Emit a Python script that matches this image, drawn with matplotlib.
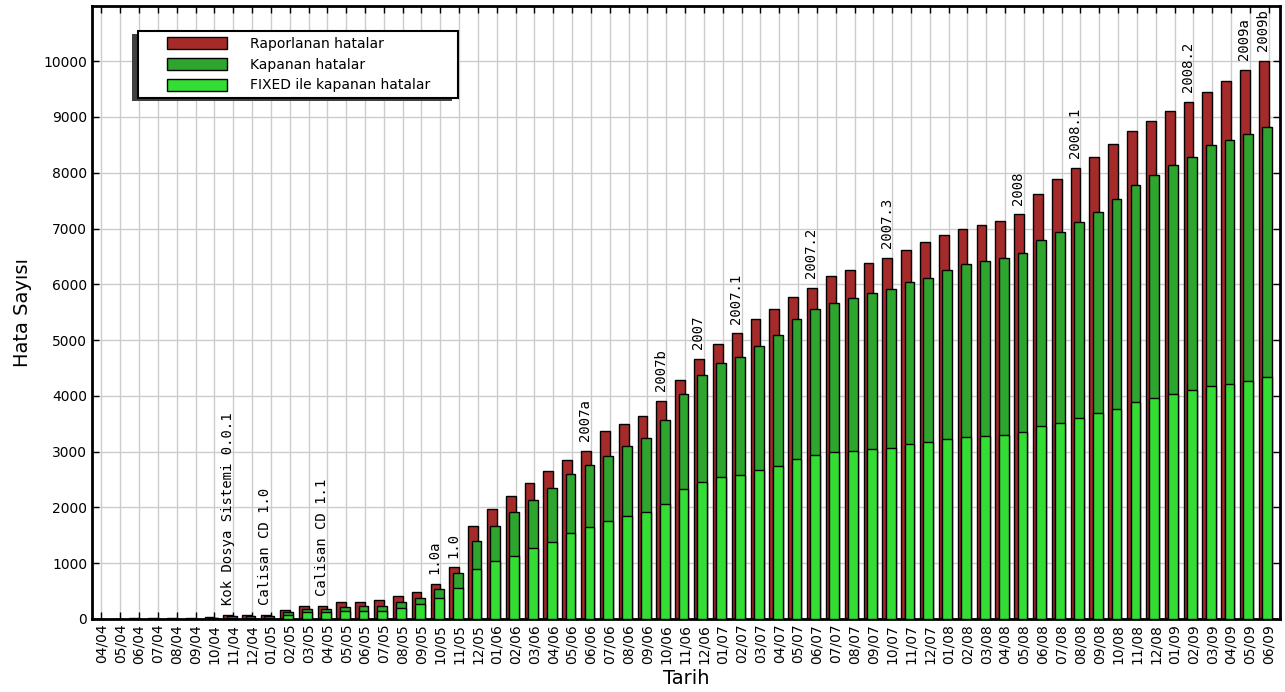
import matplotlib
matplotlib.use("Agg")
import matplotlib.pyplot as plt
from matplotlib.patches import Rectangle
from matplotlib.legend_handler import HandlerPatch
import numpy as np

months = ["04/04", "05/04", "06/04", "07/04", "08/04", "09/04", "10/04", "11/04", "12/04",
          "01/05", "02/05", "03/05", "04/05", "05/05", "06/05", "07/05", "08/05", "09/05", "10/05", "11/05", "12/05",
          "01/06", "02/06", "03/06", "04/06", "05/06", "06/06", "07/06", "08/06", "09/06", "10/06", "11/06", "12/06",
          "01/07", "02/07", "03/07", "04/07", "05/07", "06/07", "07/07", "08/07", "09/07", "10/07", "11/07", "12/07",
          "01/08", "02/08", "03/08", "04/08", "05/08", "06/08", "07/08", "08/08", "09/08", "10/08", "11/08", "12/08",
          "01/09", "02/09", "03/09", "04/09", "05/09", "06/09"]

reported = [5, 8, 10, 10, 12, 15, 40, 80, 80,
            80, 170, 240, 240, 310, 310, 335, 420, 490, 630, 925, 1660,
            1980, 2210, 2440, 2645, 2855, 3010, 3375, 3495, 3635, 3905, 4290, 4660,
            4930, 5120, 5370, 5550, 5775, 5940, 6150, 6260, 6375, 6470, 6610, 6755,
            6890, 6985, 7070, 7140, 7255, 7615, 7895, 8085, 8290, 8520, 8750, 8925,
            9105, 9270, 9440, 9645, 9850, 10000]

closed = [2, 3, 4, 4, 5, 6, 20, 50, 50,
          50, 120, 185, 185, 210, 235, 235, 310, 370, 535, 820, 1405,
          1660, 1910, 2140, 2345, 2600, 2755, 2915, 3095, 3240, 3575, 4040, 4380,
          4590, 4705, 4890, 5095, 5370, 5550, 5670, 5757, 5850, 5925, 6035, 6105,
          6265, 6360, 6420, 6470, 6565, 6795, 6930, 7110, 7295, 7530, 7775, 7960,
          8140, 8285, 8490, 8585, 8695, 8815]

fixed = [1, 1, 2, 2, 2, 3, 10, 25, 25,
         25, 75, 120, 120, 150, 150, 150, 205, 265, 372, 552, 898,
         1035, 1132, 1265, 1378, 1538, 1658, 1750, 1838, 1910, 2065, 2330, 2455,
         2545, 2585, 2665, 2735, 2868, 2935, 2988, 3007, 3048, 3072, 3143, 3168,
         3232, 3255, 3278, 3302, 3350, 3460, 3508, 3603, 3698, 3762, 3896, 3960,
         4030, 4102, 4173, 4220, 4268, 4340]

releases = ["Kok Dosya Sistemi 0.0.1", "Calisan CD 1.0", "Calisan CD 1.1", "1.0a", "1.0",
            "2007a", "2007b", "2007", "2007.1", "2007.2", "2007.3",
            "2008", "2008.1", "2008.2", "2009a", "2009b"]
release_months = ["11/04", "01/05", "04/05", "10/05", "11/05",
                  "06/06", "10/06", "12/06", "02/07", "06/07", "10/07",
                  "05/08", "08/08", "02/09", "05/09", "06/09"]

series_labels = ["Raporlanan hatalar", "Kapanan hatalar", "FIXED ile kapanan hatalar"]
colors = ["#a52a2a", "#2ea52e", "#33dd33"]

fig = plt.figure(figsize=(12.85, 6.92), dpi=100)
ax = fig.add_axes([92 / 1285, 1 - 619 / 692, 1188 / 1285, 613 / 692])

x = np.arange(len(months))
w = 0.52
c1 = ax.bar(x - w, reported, width=w, align="edge", color=colors[0],
            edgecolor="black", linewidth=1.0, label=series_labels[0], zorder=2)
c2 = ax.bar(x - 0.34, closed, width=w, align="edge", color=colors[1],
            edgecolor="black", linewidth=1.0, label=series_labels[1], zorder=3)
c3 = ax.bar(x - 0.34, fixed, width=w, align="edge", color=colors[2],
            edgecolor="black", linewidth=1.0, label=series_labels[2], zorder=4)

for name, m in zip(releases, release_months):
    i = months.index(m)
    ax.text(i - 0.3, reported[i] + 175, name, rotation=90, ha="center", va="bottom",
            family="DejaVu Sans Mono", fontsize=10, color="black", zorder=5)

ax.set_xlim(-0.5, 62.6)
ax.set_ylim(0, 10990)
ax.set_xticks(x)
ax.set_xticklabels(months, rotation=90, fontsize=10)
ax.set_yticks(np.arange(0, 10001, 1000))
ax.tick_params(axis="y", labelsize=10)
ax.tick_params(direction="in", top=True, right=True, length=5, width=1, color="black")
ax.set_axisbelow(True)
ax.grid(True, color="#cccccc", linewidth=1.0, linestyle="-")
for s in ax.spines.values():
    s.set_linewidth(2.0)
    s.set_color("black")

ax.set_xlabel("Tarih", fontsize=14, labelpad=4)
ax.set_ylabel("Hata Sayısı", fontsize=14, labelpad=8)

PATCH_W = 60 * 72 / 100.0  # legend patch width in points


def right_patch(legend, orig_handle, xdescent, ydescent, width, height, fontsize):
    return Rectangle((-xdescent + width - PATCH_W, -ydescent), PATCH_W, height)


handler = HandlerPatch(patch_func=right_patch)
handles = [c.patches[0] for c in (c1, c2, c3)]
leg = ax.legend(handles, series_labels, loc="upper left",
                bbox_to_anchor=(46 / 1188, 0.3, 320 / 1188, 0.6592),
                mode="expand", borderaxespad=0, borderpad=0.4, labelspacing=0.5,
                handlelength=6.0, handleheight=0.95, handletextpad=1.65,
                fontsize=10, frameon=True, fancybox=False, shadow=False,
                handler_map={Rectangle: handler})
frame = leg.get_frame()
frame.set_edgecolor("black")
frame.set_linewidth(1.5)
frame.set_facecolor("white")
frame.set_alpha(1.0)

fig.canvas.draw()
bb = leg.get_window_extent()
shadow = Rectangle((bb.x0 - 6, bb.y0 - 3), bb.width, bb.height, transform=None,
                   facecolor="#404040", edgecolor="none", zorder=leg.get_zorder() - 0.1,
                   clip_on=False)
ax.add_artist(shadow)

fig.savefig("out.png", dpi=100)
